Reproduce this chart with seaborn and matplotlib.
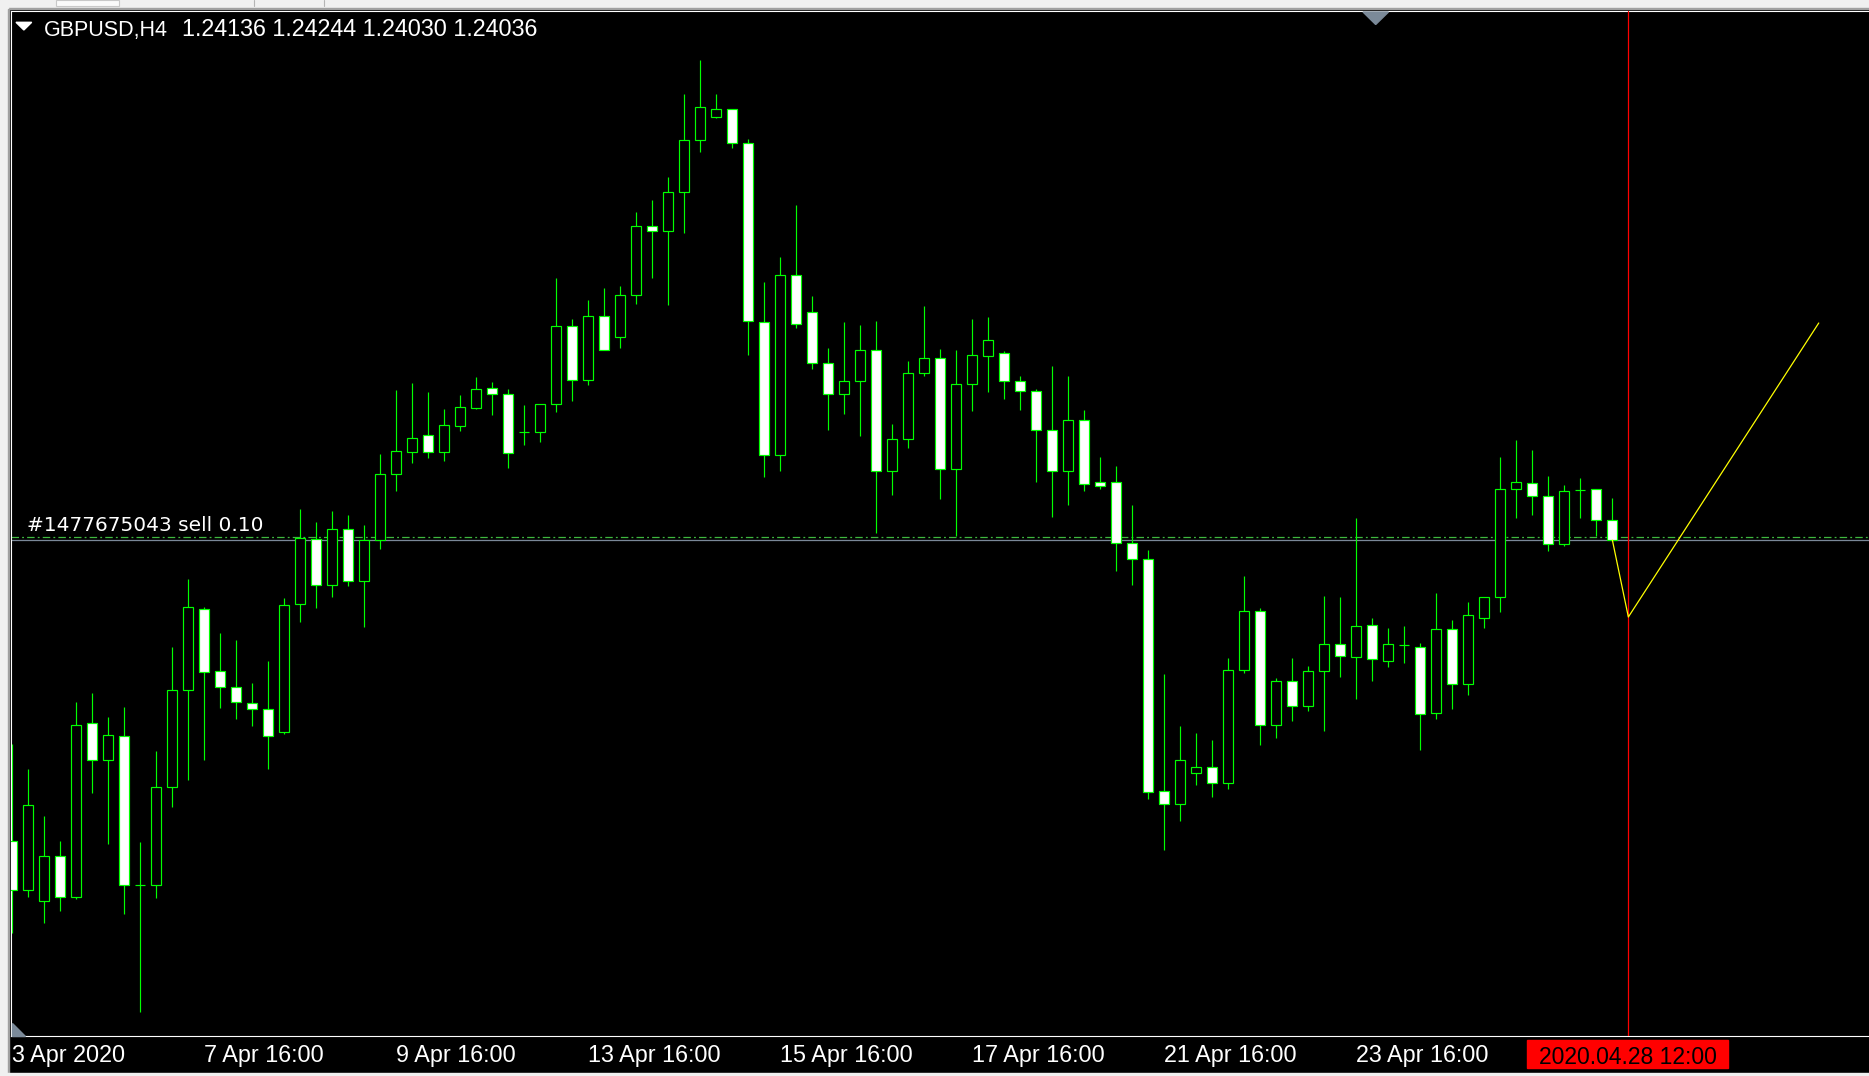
import numpy as np
import pandas as pd
import matplotlib
matplotlib.use('Agg')
import matplotlib.pyplot as plt
from matplotlib.patches import Polygon, Rectangle
from matplotlib.transforms import blended_transform_factory
import seaborn as sns

# GBPUSD H4 candles, 3 Apr 16:00 .. 28 Apr 08:00 (2020)
opens = [1.22531, 1.22286, 1.22231, 1.22456, 1.22251, 1.23121, 1.22936, 1.23056, 1.22311, 1.22311,
         1.22801, 1.23286, 1.23691, 1.23381, 1.23301, 1.23221, 1.23191, 1.23076, 1.23716, 1.24041,
         1.23811, 1.24091, 1.23831, 1.24036, 1.24366, 1.24476, 1.24561, 1.24476, 1.24606, 1.24696,
         1.24796, 1.24766, 1.24576, 1.24576, 1.24716, 1.25106, 1.24836, 1.25156, 1.25051, 1.25261,
         1.25606, 1.25581, 1.25776, 1.26036, 1.26151, 1.26191, 1.26021, 1.25126, 1.24461, 1.25361,
         1.25176, 1.24921, 1.24766, 1.24831, 1.24986, 1.24381, 1.24541, 1.24871, 1.24946, 1.24391,
         1.24816, 1.24956, 1.24971, 1.24831, 1.24781, 1.24586, 1.24381, 1.24636, 1.24326, 1.24326,
         1.24021, 1.23941, 1.22781, 1.22716, 1.22871, 1.22901, 1.22821, 1.23386, 1.23681, 1.23111,
         1.23331, 1.23206, 1.23381, 1.23516, 1.23451, 1.23611, 1.23431, 1.23511, 1.23501, 1.23171,
         1.23591, 1.23316, 1.23646, 1.23751, 1.24291, 1.24321, 1.24256, 1.24016, 1.24286, 1.24291,
         1.24136]
highs = [1.23016, 1.22891, 1.22656, 1.22531, 1.23226, 1.23271, 1.23151, 1.23201, 1.22526, 1.22981,
         1.23501, 1.23841, 1.23701, 1.23571, 1.23536, 1.23321, 1.23431, 1.23746, 1.24191, 1.24126,
         1.24181, 1.24161, 1.24111, 1.24466, 1.24786, 1.24821, 1.24776, 1.24691, 1.24761, 1.24851,
         1.24826, 1.24791, 1.24711, 1.24716, 1.25346, 1.25141, 1.25236, 1.25296, 1.25306, 1.25676,
         1.25736, 1.25851, 1.26266, 1.26436, 1.26266, 1.26191, 1.26041, 1.25326, 1.25451, 1.25711,
         1.25256, 1.24996, 1.25126, 1.25111, 1.25131, 1.24616, 1.24931, 1.25206, 1.24991, 1.24986,
         1.25141, 1.25151, 1.24981, 1.24856, 1.24791, 1.24906, 1.24856, 1.24686, 1.24451, 1.24406,
         1.24211, 1.23986, 1.23366, 1.23106, 1.23071, 1.23036, 1.23446, 1.23856, 1.23696, 1.23346,
         1.23446, 1.23406, 1.23756, 1.23751, 1.24146, 1.23646, 1.23596, 1.23606, 1.23521, 1.23771,
         1.23636, 1.23726, 1.23751, 1.24451, 1.24536, 1.24486, 1.24356, 1.24311, 1.24346, 1.24291,
         1.24244]
lows = [1.22071, 1.22251, 1.22121, 1.22181, 1.22241, 1.22771, 1.22516, 1.22166, 1.21676, 1.22246,
        1.22701, 1.22836, 1.22936, 1.23196, 1.23141, 1.23106, 1.22891, 1.23066, 1.23626, 1.23696,
        1.23751, 1.23806, 1.23601, 1.23991, 1.24281, 1.24421, 1.24446, 1.24431, 1.24581, 1.24691,
        1.24661, 1.24396, 1.24511, 1.24526, 1.24676, 1.24731, 1.24811, 1.24986, 1.24996, 1.25216,
        1.25346, 1.25211, 1.25571, 1.25976, 1.26146, 1.25996, 1.24961, 1.24351, 1.24381, 1.25096,
        1.24891, 1.24586, 1.24666, 1.24556, 1.24071, 1.24261, 1.24496, 1.24856, 1.24241, 1.24056,
        1.24681, 1.24776, 1.24741, 1.24686, 1.24326, 1.24151, 1.24211, 1.24281, 1.24291, 1.23881,
        1.23811, 1.22741, 1.22486, 1.22631, 1.22811, 1.22751, 1.22791, 1.23371, 1.23011, 1.23046,
        1.23131, 1.23181, 1.23081, 1.23351, 1.23241, 1.23331, 1.23401, 1.23421, 1.22986, 1.23141,
        1.23191, 1.23261, 1.23596, 1.23676, 1.24146, 1.24161, 1.23981, 1.24006, 1.24146, 1.24056,
        1.24030]
closes = [1.22286, 1.22711, 1.22456, 1.22251, 1.23111, 1.22936, 1.23061, 1.22311, 1.22311, 1.22801,
          1.23286, 1.23701, 1.23376, 1.23301, 1.23226, 1.23191, 1.23056, 1.23711, 1.24046, 1.23811,
          1.24091, 1.23831, 1.24036, 1.24366, 1.24481, 1.24546, 1.24476, 1.24611, 1.24701, 1.24791,
          1.24766, 1.24471, 1.24576, 1.24716, 1.25106, 1.24836, 1.25156, 1.24986, 1.25261, 1.25606,
          1.25581, 1.25776, 1.26036, 1.26201, 1.26191, 1.26021, 1.25131, 1.24461, 1.25361, 1.25116,
          1.24921, 1.24766, 1.24831, 1.24986, 1.24381, 1.24541, 1.24871, 1.24946, 1.24391, 1.24816,
          1.24961, 1.25036, 1.24831, 1.24781, 1.24586, 1.24381, 1.24636, 1.24316, 1.24306, 1.24021,
          1.23941, 1.22776, 1.22716, 1.22936, 1.22901, 1.22821, 1.23386, 1.23681, 1.23111, 1.23331,
          1.23206, 1.23381, 1.23516, 1.23456, 1.23606, 1.23441, 1.23516, 1.23511, 1.23166, 1.23591,
          1.23316, 1.23661, 1.23751, 1.24291, 1.24326, 1.24256, 1.24016, 1.24281, 1.24286, 1.24136,
          1.24036]

tick_bars = [0, 12, 24, 36, 48, 60, 72, 84, 96]
tick_labels = ['3 Apr 2020', '7 Apr 16:00', '9 Apr 16:00', '13 Apr 16:00', '15 Apr 16:00',
               '17 Apr 16:00', '21 Apr 16:00', '23 Apr 16:00', '']

sell_price = 1.24051
bid_price = 1.24036
cursor_bar = 101
cursor_label = '2020.04.28 12:00'
proj_x = [100, 101, 112.9]
proj_y = [1.24036, 1.23651, 1.25121]

df = pd.DataFrame({'open': opens, 'high': highs, 'low': lows, 'close': closes})
df['bar'] = np.arange(len(df))
df['bull'] = df['close'] >= df['open']

W, H = 1869, 1076
def fx(x):
    return x / W
def fy(y):
    return 1 - y / H

sns.set_theme(style='dark', rc={'axes.facecolor': 'black', 'figure.facecolor': 'black'})
plt.rcParams['font.family'] = ['Liberation Sans', 'DejaVu Sans']

fig = plt.figure(figsize=(W / 100, H / 100), dpi=100)
fig.patch.set_facecolor('black')

# window chrome
fig.patches.append(Rectangle((0, fy(7.5)), 1, 7.5 / H, transform=fig.transFigure, color='#f0f0f0', zorder=0))
fig.patches.append(Rectangle((0, fy(9)), 1, 1.5 / H, transform=fig.transFigure, color='#a0a0a0', zorder=0))
fig.patches.append(Rectangle((0, 0), 7.5 / W, 1, transform=fig.transFigure, color='#f0f0f0', zorder=0))
fig.patches.append(Rectangle((7.5 / W, 0), 1 / W, fy(9), transform=fig.transFigure, color='#a0a0a0', zorder=0))
fig.patches.append(Rectangle((0, 0), 1, 3 / H, transform=fig.transFigure, color='#f0f0f0', zorder=0))
fig.patches.append(Rectangle((fx(56), fy(6)), 63 / W, 6 / H, transform=fig.transFigure,
                             facecolor='#fafafa', edgecolor='#c8c8c8', lw=0.8, zorder=1))
for xl in [254, 324]:
    fig.lines.append(plt.Line2D([fx(xl), fx(xl)], [fy(6), 1], transform=fig.transFigure, color='#b4b4b4', lw=0.8))

ax = fig.add_axes([fx(11), fy(1036), 1 - fx(11), (1036 - 11) / H])
ax.set_facecolor('black')
ax.grid(False)

# wicks
ax.vlines(df['bar'], df['low'], df['high'], color='#00ff00', lw=0.85, zorder=2)
# bodies
body_lo = np.minimum(df['open'], df['close'])
body_h = np.abs(df['close'] - df['open'])
ax.bar(df['bar'], body_h, bottom=body_lo, width=0.63,
       color=np.where(df['bull'], 'black', 'white'), edgecolor='#00ff00', lw=0.85, zorder=3)

# order lines
ax.axhline(sell_price, color='#3fb83f', lw=0.9, ls=(0, (6, 2.5, 1.5, 2.5)), zorder=1)
ax.axhline(bid_price, color='#7a8898', lw=0.9, zorder=1)
trans = blended_transform_factory(ax.transAxes, ax.transData)
ax.annotate('#1477675043 sell 0.10', xy=(0.0086, sell_price), xycoords=trans,
            xytext=(0, 4.5), textcoords='offset points', color='white', fontsize=14.5,
            family=['DejaVu Sans'], va='baseline', ha='left')

# cursor line and projection
ax.axvline(cursor_bar, color='#ff0000', lw=0.9, zorder=4)
sns.lineplot(x=proj_x, y=proj_y, color='#ffff00', lw=0.9, ax=ax, legend=False, zorder=5)

ax.set_xlim(-0.08, 116.04)
ax.set_ylim(1.21556, 1.26681)
ax.set_yticks([])
ax.set_xticks(tick_bars)
ax.set_xticklabels(tick_labels, ha='left', fontsize=16.8, color='white')
ax.tick_params(axis='x', colors='white', length=3, width=0.8, direction='out', pad=2.5)
for lbl in ax.get_xticklabels():
    lbl.set_color('white')
for s in ['left', 'top', 'bottom']:
    ax.spines[s].set_color('white')
    ax.spines[s].set_linewidth(0.8)
ax.spines['right'].set_visible(False)
ax.set_xlabel('')
ax.set_ylabel('')

# header
fig.patches.append(Polygon([[fx(16), fy(22.3)], [fx(31.7), fy(22.3)], [fx(23.85), fy(30)]],
                           closed=True, transform=fig.transFigure, color='white', zorder=5))
fig.text(fx(44), fy(36), 'GBPUSD,H4', color='white', fontsize=15.5, va='baseline', ha='left')
fig.text(fx(182), fy(36), '1.24136 1.24244 1.24030 1.24036', color='white', fontsize=16.8,
         va='baseline', ha='left')

# scroll markers
fig.patches.append(Polygon([[fx(1363), fy(12)], [fx(1388.5), fy(12)], [fx(1375.7), fy(24.5)]],
                           closed=True, transform=fig.transFigure, color='#7b8a99', zorder=5))
fig.patches.append(Polygon([[fx(12), fy(1023)], [fx(12), fy(1036)], [fx(25), fy(1036)]],
                           closed=True, transform=fig.transFigure, color='#7b8a99', zorder=5))

# cursor time label
fig.patches.append(Rectangle((fx(1527), fy(1068)), 201 / W, 28 / H, transform=fig.transFigure,
                             color='#ff0000', zorder=5))
fig.text(fx(1627.5), fy(1064), cursor_label, color='black', fontsize=16.5, ha='center',
         va='baseline', zorder=6)

fig.savefig('out.png', dpi=100, facecolor='black')
